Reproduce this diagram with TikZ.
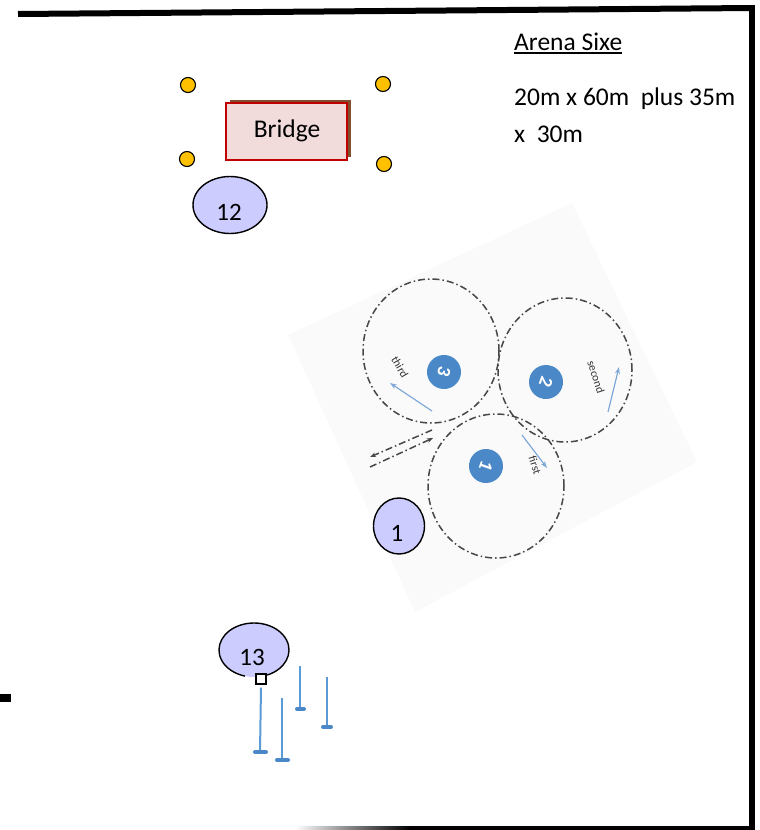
\documentclass[tikz,border=0pt]{standalone}
\usepackage{fontspec}
\setmainfont{Carlito}
\usetikzlibrary{shapes.geometric,arrows.meta,shadows}
\definecolor{lav}{HTML}{CCCCFF}
\definecolor{gold}{HTML}{FFC000}
\definecolor{brpink}{HTML}{F2DCDB}
\definecolor{brred}{HTML}{C00000}
\definecolor{brbrown}{HTML}{7F5030}
\definecolor{dotblue}{HTML}{4A88C8}
\definecolor{arrblue}{HTML}{7FA8D8}
\definecolor{polebl}{HTML}{5B9BD5}
\definecolor{trail}{HTML}{474747}
\definecolor{paper}{HTML}{FAFAFA}
\begin{document}
\begin{tikzpicture}[x=1pt,y=-1pt,
  lavnode/.style={ellipse, draw=black, line width=1.4pt, fill=lav, inner sep=0pt},
  cone/.style={circle, draw=black, line width=1.1pt, fill=gold, minimum size=15pt, inner sep=0pt},
  bignum/.style={font=\fontsize{25}{30}\selectfont, inner sep=0pt},
  bigtext/.style={font=\fontsize{25.5}{30}\selectfont, inner sep=0pt, anchor=base west},
  trailline/.style={draw=trail, line width=1.5pt, dash pattern=on 7pt off 3pt on 1.5pt off 3pt},
  dirarrow/.style={draw=arrblue, line width=1.2pt, -{Stealth[length=7pt,width=5pt]}},
  numdot/.style={circle, fill=dotblue, minimum size=34pt, inner sep=0pt, text=white, font=\fontsize{19}{21}\selectfont\bfseries},
  tinylabel/.style={font=\fontsize{11.5}{13}\selectfont, text=black!80, inner sep=0pt},
  polestem/.style={draw=polebl, line width=2pt},
  polebase/.style={draw=dotblue, line width=4pt, line cap=round},
  bridgebox/.style={rectangle, draw=brred, line width=2pt, fill=brpink, minimum width=121pt, minimum height=57pt,
     drop shadow={shadow xshift=4pt, shadow yshift=3pt, fill=brbrown, opacity=1}}
]
\useasboundingbox (0,0) rectangle (760,830);

% arena walls
\draw[line width=6pt] (18,14) -- (752,8);
\draw[line width=6pt] (752,5) -- (752,830);
\shade[left color=white, right color=black] (295,826) rectangle (410,832);
\fill (409,826) rectangle (749,832);
\fill (0,694) rectangle (11,702);

% title texts
\node[bigtext] (arena) at (514,50) {Arena Sixe};
\draw[line width=1.3pt] ([yshift=-3pt]arena.base west) -- ([yshift=-3pt]arena.base east);
\node[bigtext] (dims1) at (514,105) {20m x 60m\ \ plus 35m};
\node[bigtext] (dims2) at (514,142) {x\ \ 30m};

% bridge with cones
\node[bridgebox] (bridge) at (286.5,131.5) {};
\node[bigtext, anchor=base] (bridgetxt) at (287,137) {Bridge};
\node[cone] (c1) at (188,85) {};
\node[cone] (c2) at (383,84) {};
\node[cone] (c3) at (187,159) {};
\node[cone] (c4) at (384,164) {};

% cloverleaf pattern
\fill[paper] (572,203) -- (697,462) -- (415,612) -- (288,335) -- cycle;
\draw[trailline] (431,351) ellipse [x radius=68pt, y radius=72pt];
\draw[trailline] (565,370) ellipse [x radius=67pt, y radius=72pt];
\draw[trailline] (496,486) ellipse [x radius=68pt, y radius=72pt];
\coordinate (exA1) at (432,430);
\coordinate (exA2) at (370,457);
\coordinate (exB1) at (370,467);
\coordinate (exB2) at (433,438);
\draw[trailline, -{Stealth[length=6pt,width=4.5pt]}] (exA1) -- (exA2);
\draw[trailline, -{Stealth[length=6pt,width=4.5pt]}] (exB1) -- (exB2);

\node[numdot, rotate=-105] (d3) at (444,372) {3};
\node[numdot, rotate=-110] (d2) at (546,382) {2};
\node[numdot, rotate=-110] (d1) at (486,466) {1};

\coordinate (a3s) at (432,411);
\coordinate (a3e) at (390,383);
\coordinate (a2s) at (608,412);
\coordinate (a2e) at (619,367);
\coordinate (a1s) at (522,435);
\coordinate (a1e) at (547,468);
\draw[dirarrow] (a3s) -- (a3e);
\draw[dirarrow] (a2s) -- (a2e);
\draw[dirarrow] (a1s) -- (a1e);

\node[tinylabel, rotate=-60] (l3) at (400,367) {third};
\node[tinylabel, rotate=-72] (l2) at (596,377) {second};
\node[tinylabel, rotate=-72] (l1) at (535,465) {first};

% people
\node[lavnode, minimum width=74pt, minimum height=57pt] (p12) at (230,205) {};
\node[bignum] (t12) at (229,212.5) {12};
\node[lavnode, minimum width=51pt, minimum height=56pt] (p1) at (399,526) {};
\node[bignum] (t1) at (397,533) {1};

\node[ellipse, fill=lav, minimum width=70pt, minimum height=54pt, inner sep=0pt] (p13) at (254,650) {};
\draw[line width=1.4pt] ([shift={(292:35pt and 27pt)}]p13.center) arc[start angle=292, end angle=615, x radius=35pt, y radius=27pt];
\node[bignum] (t13) at (252,657) {13};

% poles
\node[draw=black, line width=1.1pt, fill=white, minimum size=10pt, inner sep=0pt] (sq) at (261,679) {};
\draw[polestem] (sq.south) ++(0,3) -- (260,752);
\draw[polebase] (255,752) -- (266,752);
\draw[polestem] (282,698) -- (282,760);
\draw[polebase] (277,760) -- (288,760);
\draw[polestem] (300,666) -- (300,709);
\draw[polebase] (297,709) -- (304,709);
\draw[polestem] (327,677) -- (327,727);
\draw[polebase] (323,727) -- (331,727);
\end{tikzpicture}
\end{document}
